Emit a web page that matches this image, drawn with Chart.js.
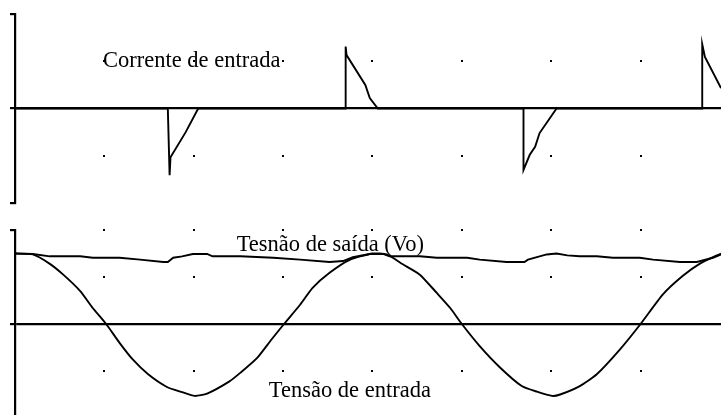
<!DOCTYPE html>
<html>
<head>
<meta charset="utf-8">
<script src="https://cdn.jsdelivr.net/npm/chart.js@4/dist/chart.umd.min.js"></script>
<style>
  html, body { margin: 0; padding: 0; background: #fff; overflow: hidden; }
  #wrap { position: relative; width: 721px; height: 415px; }
  .panel { position: absolute; left: 0; width: 721px; }
</style>
</head>
<body>
<div id="wrap">
  <div class="panel" style="top:0;height:210px"><canvas id="top"></canvas></div>
  <div class="panel" style="top:210px;height:205px"><canvas id="bottom"></canvas></div>
</div>
<script>
// x in grid divisions, y in grid divisions
const currentX = [0, 1.71, 1.73, 1.74, 1.91, 2.05, 3.70, 3.70, 3.71, 3.92, 3.97, 4.06, 5.69, 5.69, 5.76, 5.82, 5.87, 6.06, 7.69, 7.69, 7.72, 7.90];
const currentY = [0, 0, -1.41, -1.03, -0.50, 0, 0, 1.31, 1.13, 0.50, 0.22, 0, 0, -1.30, -0.98, -0.81, -0.52, 0, 0, 1.36, 1.09, 0.43];

const voX = [0, 0.20, 0.39, 0.73, 0.87, 1.17, 1.40, 1.66, 1.71, 1.77, 1.87, 1.99, 2.15, 2.21, 2.52, 2.89, 3.19, 3.52, 3.67, 3.78, 3.97, 4.12, 4.19, 4.53, 4.72, 5.06, 5.20, 5.50, 5.70, 5.74, 5.95, 6.06, 6.18, 6.32, 6.51, 6.69, 6.99, 7.14, 7.44, 7.63, 7.81, 7.90];
const voY = [1.50, 1.49, 1.44, 1.44, 1.41, 1.41, 1.37, 1.32, 1.32, 1.41, 1.44, 1.49, 1.49, 1.44, 1.44, 1.41, 1.37, 1.32, 1.34, 1.42, 1.49, 1.49, 1.44, 1.44, 1.41, 1.41, 1.37, 1.32, 1.32, 1.37, 1.48, 1.50, 1.46, 1.44, 1.44, 1.41, 1.41, 1.37, 1.32, 1.32, 1.41, 1.48];

const vinX = [0, 0.20, 0.39, 0.54, 0.73, 0.87, 1.02, 1.17, 1.32, 1.49, 1.70, 1.87, 2.01, 2.15, 2.40, 2.52, 2.71, 2.87, 3.01, 3.19, 3.33, 3.52, 3.75, 4.00, 4.16, 4.34, 4.53, 4.72, 4.87, 5.00, 5.20, 5.43, 5.67, 5.84, 6.01, 6.10, 6.32, 6.51, 6.77, 7.00, 7.25, 7.47, 7.66, 7.90];
const vinY = [1.50, 1.48, 1.28, 1.05, 0.70, 0.34, 0.00, -0.40, -0.76, -1.07, -1.34, -1.45, -1.53, -1.48, -1.22, -1.04, -0.72, -0.33, 0.00, 0.41, 0.77, 1.09, 1.37, 1.50, 1.48, 1.27, 1.05, 0.66, 0.34, 0.00, -0.47, -0.93, -1.32, -1.44, -1.53, -1.50, -1.32, -1.07, -0.54, 0.00, 0.63, 1.02, 1.28, 1.50];

const dotCols = [1, 2, 3, 4, 5, 6, 7];
const topDotRows = [1, -1];
const bottomDotRows = [2, 1, -1];
const yTicks = [-2, 0, 2];

const topLabels = [{ text: "Corrente de entrada", x: 0.985, y: 0.88 }];
const bottomLabels = [
  { text: "Tesnão de saída (Vo)", x: 2.48, y: 1.55 },
  { text: "Tensão de entrada", x: 2.84, y: -1.55 }
];

const pts = (xs, ys) => xs.map((x, i) => ({ x, y: ys[i] }));

const dotsAndText = {
  id: "dotsAndText",
  afterDatasetsDraw(chart, args, opts) {
    const { ctx, scales: { x, y } } = chart;
    ctx.save();
    ctx.fillStyle = "#000";
    opts.rows.forEach(r => dotCols.forEach(c => {
      ctx.fillRect(Math.round(x.getPixelForValue(c)) - 1, Math.round(y.getPixelForValue(r)) - 1, 2, 2);
    }));
    ctx.font = '22.5px "Liberation Serif", "Times New Roman", serif';
    ctx.textBaseline = "alphabetic";
    opts.labels.forEach(l => ctx.fillText(l.text, x.getPixelForValue(l.x), y.getPixelForValue(l.y)));
    ctx.restore();
  }
};

function makeChart(id, datasets, yMin, pad, rows, labels) {
  return new Chart(document.getElementById(id), {
    type: "line",
    data: { datasets },
    plugins: [dotsAndText],
    options: {
      responsive: true,
      maintainAspectRatio: false,
      animation: false,
      events: [],
      layout: { padding: pad },
      elements: { point: { radius: 0 }, line: { borderColor: "#000", borderWidth: 1.9, tension: 0 } },
      plugins: { legend: { display: false }, tooltip: { enabled: false }, dotsAndText: { rows, labels } },
      scales: {
        x: { type: "linear", min: 0, max: 7.9, display: false },
        y: {
          type: "linear", min: yMin, max: 2,
          afterBuildTicks: s => { s.ticks = yTicks.map(v => ({ value: v })); },
          afterFit: s => { s.width = 0; },
          ticks: { display: false },
          border: { display: true, color: "#000", width: 2.2 },
          grid: {
            drawOnChartArea: true,
            color: c => (c.tick && c.tick.value === 0 ? "#000" : "rgba(0,0,0,0)"),
            tickColor: "#000",
            tickLength: 5,
            lineWidth: 2.2
          }
        }
      }
    }
  });
}

makeChart("top",
  [{ data: pts(currentX, currentY) }],
  -2, { left: 15, right: 0, top: 14, bottom: 7 }, topDotRows, topLabels);

makeChart("bottom",
  [{ data: pts(voX, voY) }, { data: pts(vinX, vinY), tension: 0.2 }],
  -1.936, { left: 15, right: 0, top: 20, bottom: 0 }, bottomDotRows, bottomLabels);
</script>
</body>
</html>
